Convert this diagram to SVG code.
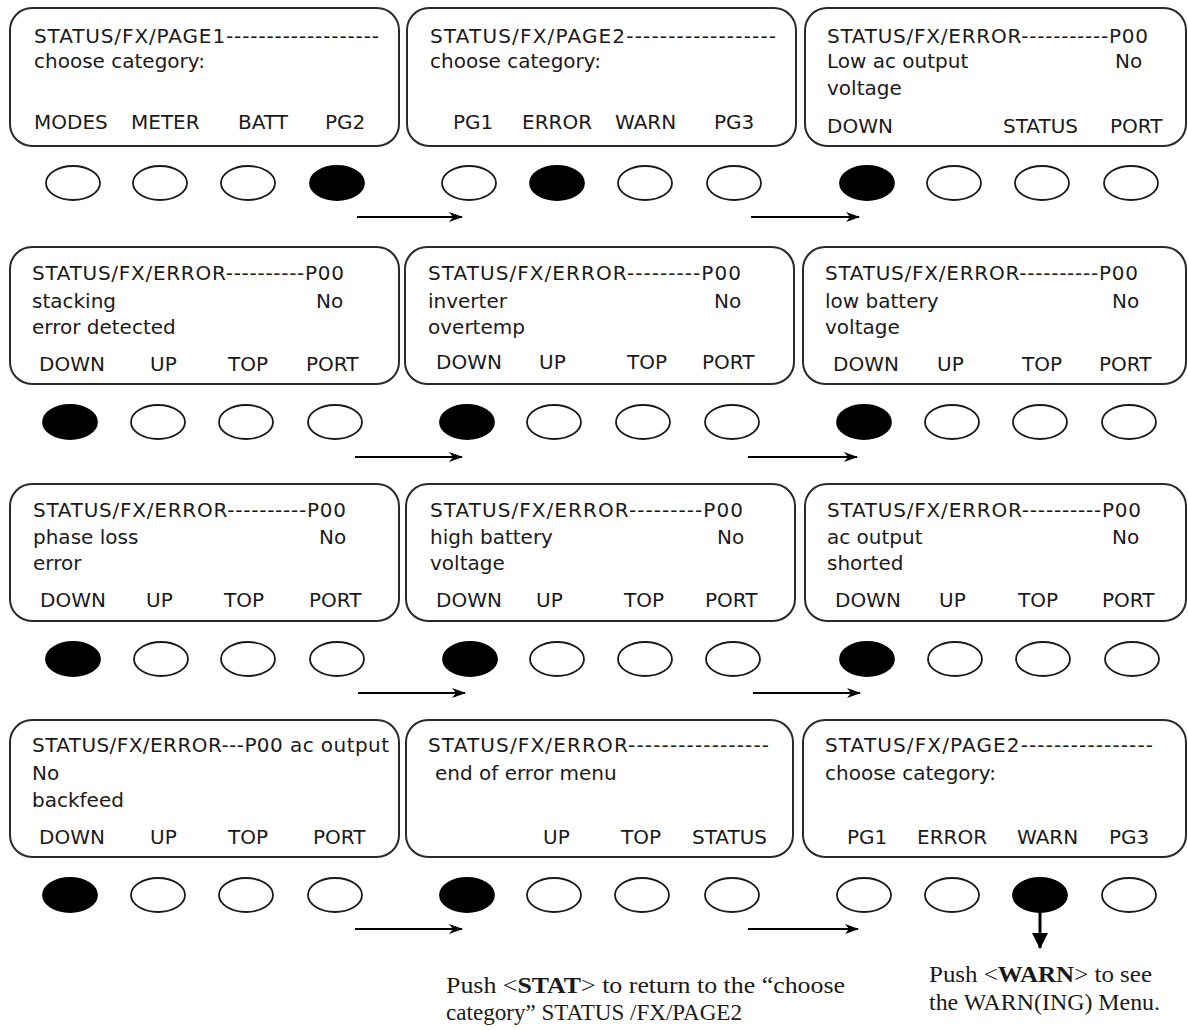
<svg xmlns="http://www.w3.org/2000/svg" width="1188" height="1030" viewBox="0 0 1188 1030">
<style>
.p{fill:#fff;stroke:#2a2a2a;stroke-width:2}
.t{font-family:"DejaVu Sans",Verdana,sans-serif;font-size:20px;fill:#1a1a1a}
.o{fill:#fff;stroke:#1a1a1a;stroke-width:1.8}
.f{fill:#000;stroke:#000;stroke-width:1.8}
.c{stroke:#000;stroke-width:2;fill:none}
.n{font-family:"Liberation Serif","Times New Roman",serif;font-size:24px;fill:#1a1a1a}
</style>
<defs>
<marker id="ah" markerWidth="14" markerHeight="10" refX="13" refY="5" orient="auto" markerUnits="userSpaceOnUse">
<path d="M0,0 L14,5 L0,10 L4,5 Z" fill="#000"/>
</marker>
<marker id="ad" markerWidth="18" markerHeight="20" refX="9" refY="19" orient="0" markerUnits="userSpaceOnUse">
<path d="M1,4 L9,20 L17,4 Z" fill="#000"/>
</marker>
</defs>
<rect width="1188" height="1030" fill="#fff"/>

<!-- Row 1 -->
<g id="r1p1">
<rect class="p" x="10" y="8" width="389" height="138" rx="22"/>
<text class="t" x="34" y="43" textLength="345">STATUS/FX/PAGE1-------------------</text>
<text class="t" x="34" y="68">choose category:</text>
<text class="t" x="34" y="129">MODES</text><text class="t" x="131" y="129">METER</text><text class="t" x="238" y="129">BATT</text><text class="t" x="325" y="129">PG2</text>
<ellipse class="o" cx="73" cy="183" rx="27" ry="17"/><ellipse class="o" cx="160" cy="183" rx="27" ry="17"/><ellipse class="o" cx="248" cy="183" rx="27" ry="17"/><ellipse class="f" cx="337" cy="183" rx="27" ry="17"/>
</g>
<g id="r1p2">
<rect class="p" x="407" y="8" width="389" height="138" rx="22"/>
<text class="t" x="430" y="43" textLength="346">STATUS/FX/PAGE2------------------</text>
<text class="t" x="430" y="68">choose category:</text>
<text class="t" x="453" y="129">PG1</text><text class="t" x="522" y="129">ERROR</text><text class="t" x="615" y="129">WARN</text><text class="t" x="714" y="129">PG3</text>
<ellipse class="o" cx="469" cy="183" rx="27" ry="17"/><ellipse class="f" cx="557" cy="183" rx="27" ry="17"/><ellipse class="o" cx="645" cy="183" rx="27" ry="17"/><ellipse class="o" cx="734" cy="183" rx="27" ry="17"/>
</g>
<g id="r1p3">
<rect class="p" x="805" y="8" width="381" height="138" rx="22"/>
<text class="t" x="827" y="43" textLength="321">STATUS/FX/ERROR-----------P00</text>
<text class="t" x="827" y="68">Low ac output</text><text class="t" x="1115" y="68">No</text>
<text class="t" x="827" y="95">voltage</text>
<text class="t" x="827" y="133">DOWN</text><text class="t" x="1003" y="133">STATUS</text><text class="t" x="1110" y="133">PORT</text>
<ellipse class="f" cx="867" cy="183" rx="27" ry="17"/><ellipse class="o" cx="954" cy="183" rx="27" ry="17"/><ellipse class="o" cx="1042" cy="183" rx="27" ry="17"/><ellipse class="o" cx="1131" cy="183" rx="27" ry="17"/>
</g>

<!-- Row 2 -->
<g id="r2p1">
<rect class="p" x="10" y="247" width="389" height="137" rx="22"/>
<text class="t" x="32" y="280" textLength="312">STATUS/FX/ERROR----------P00</text>
<text class="t" x="32" y="308">stacking</text><text class="t" x="316" y="308">No</text>
<text class="t" x="32" y="334">error detected</text>
<text class="t" x="39" y="371">DOWN</text><text class="t" x="150" y="371">UP</text><text class="t" x="228" y="371">TOP</text><text class="t" x="306" y="371">PORT</text>
<ellipse class="f" cx="70" cy="422" rx="27" ry="17"/><ellipse class="o" cx="158" cy="422" rx="27" ry="17"/><ellipse class="o" cx="246" cy="422" rx="27" ry="17"/><ellipse class="o" cx="335" cy="422" rx="27" ry="17"/>
</g>
<g id="r2p2">
<rect class="p" x="405" y="247" width="389" height="137" rx="22"/>
<text class="t" x="428" y="280" textLength="313">STATUS/FX/ERROR---------P00</text>
<text class="t" x="428" y="308">inverter</text><text class="t" x="714" y="308">No</text>
<text class="t" x="428" y="334">overtemp</text>
<text class="t" x="436" y="369">DOWN</text><text class="t" x="539" y="369">UP</text><text class="t" x="627" y="369">TOP</text><text class="t" x="702" y="369">PORT</text>
<ellipse class="f" cx="467" cy="422" rx="27" ry="17"/><ellipse class="o" cx="554" cy="422" rx="27" ry="17"/><ellipse class="o" cx="643" cy="422" rx="27" ry="17"/><ellipse class="o" cx="732" cy="422" rx="27" ry="17"/>
</g>
<g id="r2p3">
<rect class="p" x="803" y="247" width="383" height="137" rx="22"/>
<text class="t" x="825" y="280" textLength="313">STATUS/FX/ERROR----------P00</text>
<text class="t" x="825" y="308">low battery</text><text class="t" x="1112" y="308">No</text>
<text class="t" x="825" y="334">voltage</text>
<text class="t" x="833" y="371">DOWN</text><text class="t" x="937" y="371">UP</text><text class="t" x="1022" y="371">TOP</text><text class="t" x="1099" y="371">PORT</text>
<ellipse class="f" cx="864" cy="422" rx="27" ry="17"/><ellipse class="o" cx="952" cy="422" rx="27" ry="17"/><ellipse class="o" cx="1040" cy="422" rx="27" ry="17"/><ellipse class="o" cx="1129" cy="422" rx="27" ry="17"/>
</g>

<!-- Row 3 -->
<g id="r3p1">
<rect class="p" x="10" y="484" width="389" height="137" rx="22"/>
<text class="t" x="33" y="517" textLength="313">STATUS/FX/ERROR----------P00</text>
<text class="t" x="33" y="544">phase loss</text><text class="t" x="319" y="544">No</text>
<text class="t" x="33" y="570">error</text>
<text class="t" x="40" y="607">DOWN</text><text class="t" x="146" y="607">UP</text><text class="t" x="224" y="607">TOP</text><text class="t" x="309" y="607">PORT</text>
<ellipse class="f" cx="73" cy="659" rx="27" ry="17"/><ellipse class="o" cx="161" cy="659" rx="27" ry="17"/><ellipse class="o" cx="248" cy="659" rx="27" ry="17"/><ellipse class="o" cx="337" cy="659" rx="27" ry="17"/>
</g>
<g id="r3p2">
<rect class="p" x="406" y="484" width="389" height="137" rx="22"/>
<text class="t" x="430" y="517" textLength="313">STATUS/FX/ERROR---------P00</text>
<text class="t" x="430" y="544">high battery</text><text class="t" x="717" y="544">No</text>
<text class="t" x="430" y="570">voltage</text>
<text class="t" x="436" y="607">DOWN</text><text class="t" x="536" y="607">UP</text><text class="t" x="624" y="607">TOP</text><text class="t" x="705" y="607">PORT</text>
<ellipse class="f" cx="470" cy="659" rx="27" ry="17"/><ellipse class="o" cx="557" cy="659" rx="27" ry="17"/><ellipse class="o" cx="645" cy="659" rx="27" ry="17"/><ellipse class="o" cx="733" cy="659" rx="27" ry="17"/>
</g>
<g id="r3p3">
<rect class="p" x="805" y="484" width="381" height="137" rx="22"/>
<text class="t" x="827" y="517" textLength="314">STATUS/FX/ERROR----------P00</text>
<text class="t" x="827" y="544">ac output</text><text class="t" x="1112" y="544">No</text>
<text class="t" x="827" y="570">shorted</text>
<text class="t" x="835" y="607">DOWN</text><text class="t" x="939" y="607">UP</text><text class="t" x="1018" y="607">TOP</text><text class="t" x="1102" y="607">PORT</text>
<ellipse class="f" cx="867" cy="659" rx="27" ry="17"/><ellipse class="o" cx="955" cy="659" rx="27" ry="17"/><ellipse class="o" cx="1043" cy="659" rx="27" ry="17"/><ellipse class="o" cx="1132" cy="659" rx="27" ry="17"/>
</g>

<!-- Row 4 -->
<g id="r4p1">
<rect class="p" x="10" y="720" width="389" height="137" rx="22"/>
<text class="t" x="32" y="752" textLength="357">STATUS/FX/ERROR---P00 ac output</text>
<text class="t" x="32" y="780">No</text>
<text class="t" x="32" y="807">backfeed</text>
<text class="t" x="39" y="844">DOWN</text><text class="t" x="150" y="844">UP</text><text class="t" x="228" y="844">TOP</text><text class="t" x="313" y="844">PORT</text>
<ellipse class="f" cx="70" cy="895" rx="27" ry="17"/><ellipse class="o" cx="158" cy="895" rx="27" ry="17"/><ellipse class="o" cx="246" cy="895" rx="27" ry="17"/><ellipse class="o" cx="335" cy="895" rx="27" ry="17"/>
</g>
<g id="r4p2">
<rect class="p" x="406" y="720" width="387" height="137" rx="22"/>
<text class="t" x="428" y="752" textLength="341">STATUS/FX/ERROR-----------------</text>
<text class="t" x="435" y="780">end of error menu</text>
<text class="t" x="543" y="844">UP</text><text class="t" x="621" y="844">TOP</text><text class="t" x="692" y="844">STATUS</text>
<ellipse class="f" cx="467" cy="895" rx="27" ry="17"/><ellipse class="o" cx="554" cy="895" rx="27" ry="17"/><ellipse class="o" cx="642" cy="895" rx="27" ry="17"/><ellipse class="o" cx="732" cy="895" rx="27" ry="17"/>
</g>
<g id="r4p3">
<rect class="p" x="803" y="720" width="383" height="137" rx="22"/>
<text class="t" x="825" y="752" textLength="328">STATUS/FX/PAGE2----------------</text>
<text class="t" x="825" y="780">choose category:</text>
<text class="t" x="847" y="844">PG1</text><text class="t" x="917" y="844">ERROR</text><text class="t" x="1017" y="844">WARN</text><text class="t" x="1109" y="844">PG3</text>
<ellipse class="o" cx="864" cy="895" rx="27" ry="17"/><ellipse class="o" cx="952" cy="895" rx="27" ry="17"/><ellipse class="f" cx="1040" cy="895" rx="27" ry="17"/><ellipse class="o" cx="1129" cy="895" rx="27" ry="17"/>
</g>

<g id="connectors">
<line class="c" x1="357" y1="217" x2="462" y2="217" marker-end="url(#ah)"/>
<line class="c" x1="751" y1="217" x2="859" y2="217" marker-end="url(#ah)"/>
<line class="c" x1="355" y1="457" x2="462" y2="457" marker-end="url(#ah)"/>
<line class="c" x1="748" y1="457" x2="857" y2="457" marker-end="url(#ah)"/>
<line class="c" x1="358" y1="693" x2="465" y2="693" marker-end="url(#ah)"/>
<line class="c" x1="753" y1="693" x2="860" y2="693" marker-end="url(#ah)"/>
<line class="c" x1="355" y1="929" x2="462" y2="929" marker-end="url(#ah)"/>
<line class="c" x1="748" y1="929" x2="858" y2="929" marker-end="url(#ah)"/>
<line x1="1040" y1="907" x2="1040" y2="948" stroke="#000" stroke-width="3" marker-end="url(#ad)"/>
</g>

<g id="notes">
<text class="n" x="446" y="993" textLength="399" lengthAdjust="spacingAndGlyphs">Push &lt;<tspan font-weight="bold">STAT</tspan>&gt; to return to the “choose</text>
<text class="n" x="446" y="1020" textLength="296" lengthAdjust="spacingAndGlyphs">category” STATUS /FX/PAGE2</text>
<text class="n" x="929" y="982" textLength="223" lengthAdjust="spacingAndGlyphs">Push &lt;<tspan font-weight="bold">WARN</tspan>&gt; to see</text>
<text class="n" x="929" y="1010" textLength="231" lengthAdjust="spacingAndGlyphs">the WARN(ING) Menu.</text>
</g>
</svg>
